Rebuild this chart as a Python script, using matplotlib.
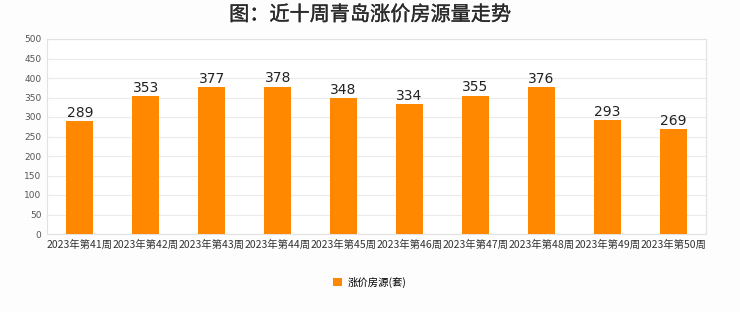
import numpy as np
import matplotlib.pyplot as plt
from matplotlib import patheffects

plt.rcParams['font.family'] = ['Noto Sans CJK SC', 'DejaVu Sans']

weeks = ['2023年第41周', '2023年第42周', '2023年第43周', '2023年第44周', '2023年第45周',
         '2023年第46周', '2023年第47周', '2023年第48周', '2023年第49周', '2023年第50周']
counts = [289, 353, 377, 378, 348, 334, 355, 376, 293, 269]
y_ticks = [0, 50, 100, 150, 200, 250, 300, 350, 400, 450, 500]

bg = '#fdfdfd'
orange = '#ff8800'

fig = plt.figure(figsize=(7.4, 3.12), dpi=100, facecolor=bg)
ax = fig.add_axes([47 / 740, 1 - 234 / 312, (706 - 47) / 740, (234 - 39) / 312])
ax.set_facecolor('white')

x = np.arange(len(weeks))
bars = ax.bar(x, counts, width=0.41, color=orange, label='涨价房源(套)', zorder=3)
for xi, v in zip(x, counts):
    ax.text(xi, v + 3, str(v), ha='center', va='bottom', fontsize=10,
            family='DejaVu Sans', color='#222222', zorder=4)

ax.set_xlim(-0.5, len(weeks) - 0.5)
ax.set_ylim(0, 500)
ax.set_yticks(y_ticks)
ax.set_yticklabels([str(t) for t in y_ticks], fontsize=6.5, family='DejaVu Sans', color='#555555')
ax.set_xticks(x)
ax.set_xticklabels(weeks, fontsize=7.5, color='#333333')
ax.tick_params(length=0, pad=4)
ax.grid(axis='y', color='#ebebeb', linewidth=0.8, zorder=0)
for s in ax.spines.values():
    s.set_color('#e2e2e2')
    s.set_linewidth(0.8)

# title: regular weight, thickened slightly with a thin stroke
fig.text(0.5, 1 - 15 / 312, '图：近十周青岛涨价房源量走势', ha='center', va='center',
         fontsize=14.5, color='#2a2a2a',
         path_effects=[patheffects.withStroke(linewidth=0.25, foreground='#2a2a2a')])

fig.legend(handles=[bars], loc='center', bbox_to_anchor=(0.5, 1 - 282 / 312), frameon=False,
           fontsize=7.5, handlelength=0.8, handleheight=0.8, handletextpad=0.6)

fig.savefig('out.png', dpi=100, facecolor=bg)
